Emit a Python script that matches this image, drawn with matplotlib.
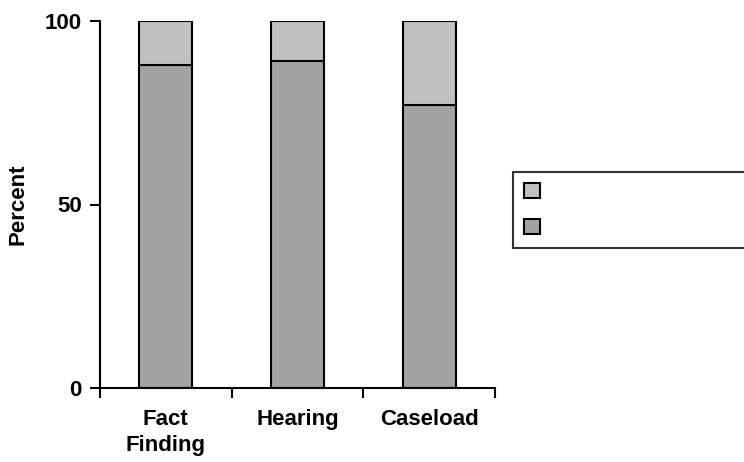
import matplotlib.pyplot as plt
from matplotlib.patches import Patch

plt.rcParams['font.family'] = ['Liberation Sans', 'DejaVu Sans']
plt.rcParams['font.weight'] = 'bold'

categories = ["Fact\nFinding", "Hearing", "Caseload"]
lower = [88, 89, 77]
upper = [12, 11, 23]

dark = "#a3a3a3"
light = "#c0c0c0"

fig = plt.figure(figsize=(7.44, 4.62), dpi=100)
ax = fig.add_axes([100/744, 1-388/462, 395/744, 367/462])

x = range(len(categories))
ax.bar(x, lower, width=0.4, color=dark, edgecolor="black", linewidth=1.5, zorder=2)
ax.bar(x, upper, bottom=lower, width=0.4, color=light, edgecolor="black",
       linewidth=1.5, zorder=2)

ax.set_xlim(-0.5, 2.5)
ax.set_ylim(0, 100)
ax.set_yticks([0, 50, 100])
ax.set_xticks(list(x))
ax.set_xticklabels(categories, fontsize=16, fontweight="bold", linespacing=1.35)
ax.set_xticks([-0.5, 0.5, 1.5, 2.5], minor=True)
ax.tick_params(axis="x", which="major", length=0, pad=15)
ax.tick_params(axis="x", which="minor", length=7, width=1.5, direction="out")
ax.tick_params(axis="y", length=7, width=1.5, labelsize=16, pad=6)
for lab in ax.get_yticklabels():
    lab.set_fontweight("bold")
ax.spines["top"].set_visible(False)
ax.spines["right"].set_visible(False)
ax.spines["left"].set_linewidth(1.5)
ax.spines["bottom"].set_linewidth(1.5)
ax.set_ylabel("Percent", fontsize=16, fontweight="bold", labelpad=12)

handles = [Patch(facecolor=light, edgecolor="black", linewidth=1.5),
           Patch(facecolor=dark, edgecolor="black", linewidth=1.5)]
leg = fig.legend(handles, ["", ""], loc="center left",
                 bbox_to_anchor=(513/744, 1-247/462, 0.4, 74/462),
                 mode="expand", fancybox=False, frameon=True, fontsize=13,
                 handlelength=0.9, handleheight=0.9, labelspacing=1.05,
                 borderpad=0.6, borderaxespad=0, handletextpad=0.5)
leg.get_frame().set_edgecolor("black")
leg.get_frame().set_linewidth(1.5)

fig.savefig("out.png", dpi=100)
